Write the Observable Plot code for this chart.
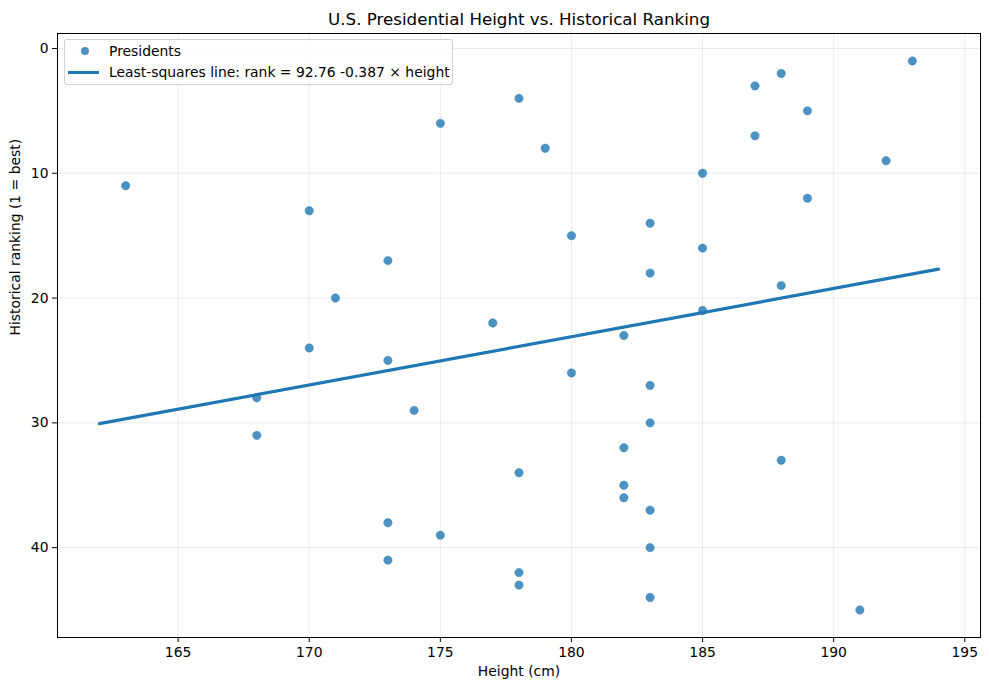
<!DOCTYPE html>
<html>
<head>
<meta charset="utf-8">
<script src="https://cdn.jsdelivr.net/npm/d3@7"></script>
<script src="https://cdn.jsdelivr.net/npm/@observablehq/plot@0.6"></script>
<style>
  html, body { margin: 0; padding: 0; background: #fff; }
  #wrap { position: relative; width: 989px; height: 690px; font-family: "DejaVu Sans", sans-serif; }
  #legend { position: absolute; left: 64px; top: 39px; width: 389px; height: 46px;
    border: 1px solid #d0d0d0; border-radius: 3px; background: rgba(255,255,255,0.8);
    font-size: 13.9px; color: #000; box-sizing: border-box; white-space: nowrap; }
  .row { position: absolute; left: 0; height: 18px; display: flex; align-items: center; }
  .sym { width: 44px; position: relative; height: 18px; }
  .dot { position: absolute; left: 16px; top: 5px; width: 8px; height: 8px; border-radius: 50%; background: #1f77b4; opacity: 0.8; }
  .ln { position: absolute; left: 3px; top: 8px; width: 31px; height: 3px; background: #1f77b4; }
  svg text { font-family: "DejaVu Sans", sans-serif; }
</style>
</head>
<body>
<div id="wrap"><div id="legend">
  <div class="row" style="top:2px"><div class="sym"><div class="dot"></div></div><span>Presidents</span></div>
  <div class="row" style="top:23px"><div class="sym"><div class="ln"></div></div><span>Least-squares line: rank = 92.76 -0.387 × height</span></div>
</div></div>
<script>
// Data
const heights = [163,170,168,168,170,171,173,173,173,173,174,175,175,177,178,178,178,178,179,180,180,182,182,182,182,183,183,183,183,183,183,183,185,185,185,187,187,188,188,188,189,189,191,192,193];
const ranks   = [ 11, 13, 28, 31, 24, 20, 17, 25, 38, 41, 29,  6, 39, 22,  4, 34, 42, 43,  8, 15, 26, 23, 32, 35, 36, 14, 18, 27, 30, 37, 40, 44, 10, 16, 21,  3,  7,  2, 19, 33,  5, 12, 45,  9,  1];
const fitIntercept = 92.76;
const fitSlope = -0.387;
const fitRange = [162, 194];
const xTicks = [165,170,175,180,185,190,195];
const yTicks = [0,10,20,30,40];
const title = "U.S. Presidential Height vs. Historical Ranking";
const xLabel = "Height (cm)";
const yLabel = "Historical ranking (1 = best)";

const points = heights.map((h, i) => ({height: h, rank: ranks[i]}));
const fit = fitRange.map(h => ({height: h, rank: fitIntercept + fitSlope * h}));

const chart = Plot.plot({
  width: 989,
  height: 690,
  marginLeft: 57,
  marginRight: 9,
  marginTop: 33,
  marginBottom: 53,
  style: {fontFamily: "DejaVu Sans, sans-serif", fontSize: "13.9px", background: "#fff", color: "#000"},
  x: {domain: [160.4, 195.6], ticks: xTicks, label: null},
  y: {domain: [-1.2, 47.2], reverse: true, ticks: yTicks, label: null},
  marks: [
    Plot.gridX(xTicks, {stroke: "#b0b0b0", strokeOpacity: 0.3, strokeWidth: 0.8}),
    Plot.gridY(yTicks, {stroke: "#b0b0b0", strokeOpacity: 0.3, strokeWidth: 0.8}),
    Plot.axisX({ticks: xTicks, tickSize: 5, tickPadding: 5, fontSize: 13.9, tickFormat: d => String(d), label: null}),
    Plot.axisY({ticks: yTicks, tickSize: 5, tickPadding: 4, fontSize: 13.9, tickFormat: d => String(d), label: null}),
    Plot.dot(points, {x: "height", y: "rank", r: 4.2, fill: "#1f77b4", fillOpacity: 0.8, stroke: "#1f77b4", strokeOpacity: 0.8, strokeWidth: 0.5}),
    Plot.line(fit, {x: "height", y: "rank", stroke: "#1f77b4", strokeWidth: 3.2}),
    Plot.frame({stroke: "#000", strokeWidth: 1}),
    Plot.text([title], {frameAnchor: "top", dy: -20, fontSize: 16.7, text: d => d, fill: "#000"}),
    Plot.text([xLabel], {frameAnchor: "bottom", dy: 38, fontSize: 13.9, text: d => d, fill: "#000"}),
    Plot.text([yLabel], {frameAnchor: "left", dx: -42, rotate: -90, fontSize: 13.9, text: d => d, fill: "#000"})
  ]
});
document.getElementById("wrap").prepend(chart);
</script>
</body>
</html>
